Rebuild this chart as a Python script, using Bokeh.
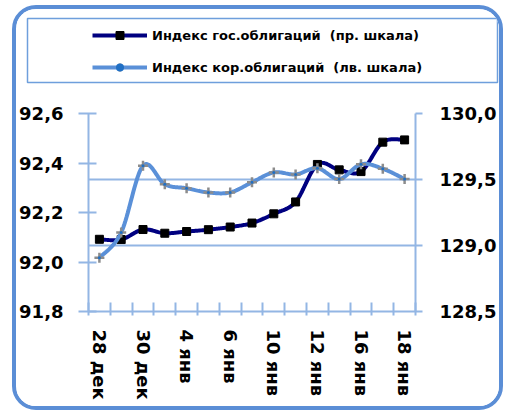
import numpy as np
from bokeh.plotting import figure
from bokeh.layouts import column
from bokeh.models import (Range1d, LinearAxis, FixedTicker, Grid, Legend, LegendItem,
                          CustomJSTickFormatter)
from bokeh.embed import file_html
from bokeh.resources import INLINE

# ---- data ----
dates = ["28 дек", "29 дек", "30 дек", "3 янв", "4 янв", "5 янв", "6 янв", "9 янв",
         "10 янв", "11 янв", "12 янв", "13 янв", "16 янв", "17 янв", "18 янв"]
gov_index = [129.047, 129.045, 129.121, 129.093, 129.106, 129.12, 129.14, 129.17,
             129.24, 129.33, 129.614, 129.573, 129.56, 129.783, 129.80]
corp_index = [92.017, 92.119, 92.389, 92.314, 92.298, 92.281, 92.281, 92.322,
              92.362, 92.354, 92.379, 92.335, 92.395, 92.377, 92.335]
left_ticks = [91.8, 92.0, 92.2, 92.4, 92.6]
right_ticks = [128.5, 129.0, 129.5, 130.0]
gov_label = "Индекс гос.облигаций  (пр. шкала)"
corp_label = "Индекс кор.облигаций  (лв. шкала)"

FONT = "DejaVu Sans"
GRID_C = "#93B6E4"
NAVY = "#000080"
LIGHT = "#5A90D8"
BORDER_C = "#5B8ED6"
MARK_GRAY = "#8C8C8C"
DOT_BLUE = "#1F6FC5"


def smooth(ys, n=20):
    """Excel-like smoothed line (Catmull-Rom Bezier) through the points."""
    xs = np.arange(len(ys), dtype=float)
    ys = np.asarray(ys, dtype=float)
    px = np.concatenate([[xs[0]], xs, [xs[-1]]])
    py = np.concatenate([[ys[0]], ys, [ys[-1]]])
    t = np.linspace(0, 1, n, endpoint=False)
    ox, oy = [], []
    for i in range(len(xs) - 1):
        p0x, p1x, p2x, p3x = px[i:i + 4]
        p0y, p1y, p2y, p3y = py[i:i + 4]
        c1x, c1y = p1x + (p2x - p0x) / 6, p1y + (p2y - p0y) / 6
        c2x, c2y = p2x - (p3x - p1x) / 6, p2y - (p3y - p1y) / 6
        b0, b1, b2, b3 = (1 - t) ** 3, 3 * (1 - t) ** 2 * t, 3 * (1 - t) * t ** 2, t ** 3
        ox.extend(b0 * p1x + b1 * c1x + b2 * c2x + b3 * p2x)
        oy.extend(b0 * p1y + b1 * c1y + b2 * c2y + b3 * p2y)
    ox.append(xs[-1])
    oy.append(ys[-1])
    return ox, oy


n = len(dates)
xs = list(range(n))

# ---------------- legend panel ----------------
IW = 483           # inner width (inside the rounded border)
LH = 93            # legend panel height
lf = figure(width=IW, height=LH, output_backend="svg", toolbar_location=None,
            x_axis_type=None, y_axis_type=None,
            x_range=Range1d(0, 1), y_range=Range1d(0, 1),
            min_border_left=11, min_border_right=2, min_border_top=9, min_border_bottom=20)
lf.frame_align = False
lf.xgrid.visible = False
lf.ygrid.visible = False
lf.outline_line_color = "#6E9FDC"
lf.outline_line_width = 1.5
lf.background_fill_color = "white"
lf.border_fill_color = "white"

# legend proxies: the series themselves, which fall outside this panel's 0..1 ranges
lg_line = lf.line(xs, gov_index, line_color=NAVY, line_width=4)
lg_mark = lf.scatter(xs, gov_index, marker="square", size=8, fill_color="black",
                     line_color="black")
lc_line = lf.line(xs, corp_index, line_color=LIGHT, line_width=4)
lc_mark = lf.scatter(xs, corp_index, marker="cross", size=10, line_color=MARK_GRAY,
                     line_width=2.5)
lc_dot = lf.scatter(xs, corp_index, marker="circle", size=3, fill_color=DOT_BLUE,
                    line_color=None)

legend = Legend(items=[LegendItem(label=gov_label, renderers=[lg_line, lg_mark]),
                       LegendItem(label=corp_label, renderers=[lc_line, lc_mark, lc_dot])],
                location=(60, 0), orientation="vertical",
                background_fill_alpha=0, border_line_alpha=0,
                padding=5, margin=0, spacing=12, glyph_width=55, glyph_height=20,
                label_height=20, label_standoff=5,
                label_text_font=FONT, label_text_font_style="bold",
                label_text_font_size="13px", label_text_color="black")
lf.add_layout(legend)

# ---------------- chart panel ----------------
CH = 304
p = figure(width=IW, height=CH, output_backend="svg", toolbar_location=None,
           x_range=Range1d(-0.5, n - 0.5), y_range=Range1d(left_ticks[0], left_ticks[-1]),
           min_border_left=71, min_border_right=82, min_border_top=11,
           min_border_bottom=95)
p.frame_align = False
p.extra_y_ranges = {"right": Range1d(right_ticks[0], right_ticks[-1])}
p.outline_line_color = None
p.background_fill_color = "white"
p.border_fill_color = "white"
p.xgrid.visible = False
p.ygrid.visible = False

fmt = CustomJSTickFormatter(code="return tick.toFixed(1).replace('.', ',');")


def style_axis(ax):
    ax.axis_line_color = GRID_C
    ax.axis_line_width = 2
    ax.major_label_text_font = FONT
    ax.major_label_text_font_style = "bold"
    ax.major_label_text_font_size = "18px"
    ax.major_label_text_color = "black"


# left axis
la = p.yaxis[0]
la.ticker = FixedTicker(ticks=left_ticks)
la.formatter = fmt
style_axis(la)
la.major_tick_line_color = GRID_C
la.major_tick_line_width = 2
la.major_tick_in = 8
la.major_tick_out = 10
la.minor_tick_line_color = None
la.major_label_standoff = 15

# right axis
ra = LinearAxis(y_range_name="right", ticker=FixedTicker(ticks=right_ticks), formatter=fmt)
style_axis(ra)
ra.major_tick_line_color = GRID_C
ra.major_tick_line_width = 2
ra.major_tick_in = 0
ra.major_tick_out = 7
ra.minor_tick_line_color = None
ra.major_label_standoff = 17
p.add_layout(ra, "right")

# bottom axis
xa = p.xaxis[0]
xa.ticker = FixedTicker(ticks=list(range(0, n, 2)),
                        minor_ticks=[i - 0.5 for i in range(n + 1)])
xa.major_label_overrides = {i: dates[i] for i in range(0, n, 2)}
xa.major_label_orientation = -np.pi / 2
style_axis(xa)
xa.major_tick_line_color = None
xa.major_tick_in = 0
xa.major_tick_out = 0
xa.minor_tick_line_color = GRID_C
xa.minor_tick_line_width = 2
xa.minor_tick_in = 9
xa.minor_tick_out = 4
xa.major_label_standoff = 14

# horizontal gridlines follow the right scale
p.add_layout(Grid(dimension=1, ticker=FixedTicker(ticks=right_ticks), y_range_name="right",
                  grid_line_color=GRID_C, grid_line_width=2))

# series
gx, gy = smooth(gov_index)
cx, cy = smooth(corp_index)
p.line(gx, gy, y_range_name="right", line_color=NAVY, line_width=4)
p.scatter(xs, gov_index, y_range_name="right", marker="square", size=8,
          fill_color="black", line_color="black")
p.line(cx, cy, line_color=LIGHT, line_width=4)
p.scatter(xs, corp_index, marker="cross", size=10, line_color=MARK_GRAY, line_width=2.5)
p.scatter(xs, corp_index, marker="circle", size=3, fill_color=DOT_BLUE, line_color=None)

layout = column(lf, p, spacing=0,
                styles={"margin-left": "12px", "margin-top": "5px",
                        "border": f"4px solid {BORDER_C}", "border-radius": "24px",
                        "overflow": "hidden", "background-color": "white"})

open("out.html", "w").write(file_html(layout, INLINE))
